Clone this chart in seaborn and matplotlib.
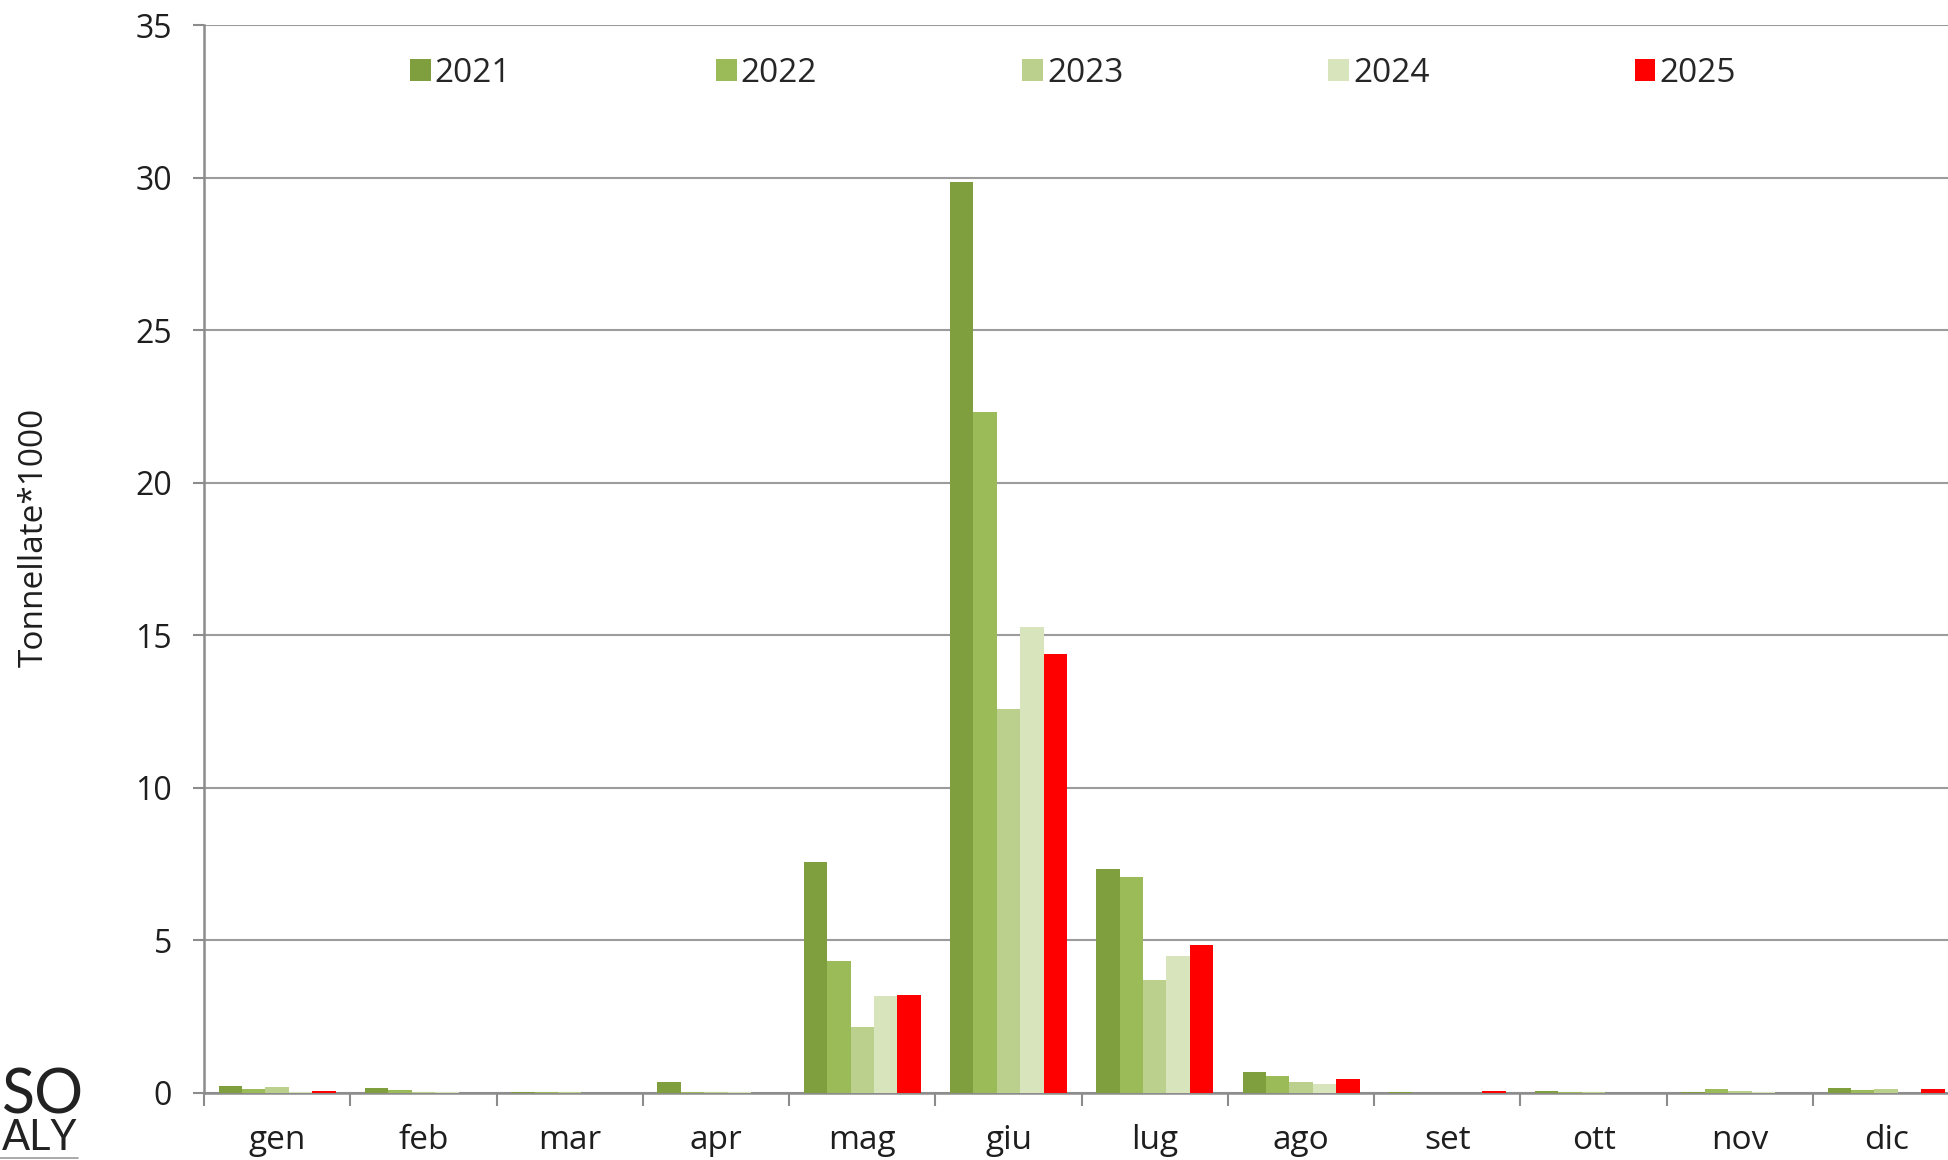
import pandas as pd
import numpy as np
import seaborn as sns
import matplotlib.pyplot as plt
from matplotlib.ticker import FixedLocator

months = ['gen', 'feb', 'mar', 'apr', 'mag', 'giu', 'lug', 'ago', 'set', 'ott', 'nov', 'dic']
years = ['2021', '2022', '2023', '2024', '2025']

# tonnellate*1000
v2021 = [0.22, 0.15, 0.04, 0.37, 7.58, 29.87, 7.33, 0.68, 0.02, 0.08, 0.04, 0.15]
v2022 = [0.14, 0.11, 0.04, 0.03, 4.32, 22.33, 7.09, 0.57, 0.00, 0.02, 0.12, 0.11]
v2023 = [0.21, 0.02, 0.04, 0.03, 2.16, 12.59, 3.71, 0.36, 0.00, 0.02, 0.06, 0.13]
v2024 = [0.02, 0.02, 0.01, 0.02, 3.18, 15.28, 4.48, 0.29, 0.00, 0.00, 0.02, 0.00]
v2025 = [0.05, 0.00, 0.00, 0.00, 3.22, 14.38, 4.85, 0.47, 0.05, 0.00, 0.00, 0.12]

colors = ['#7F9F3E', '#9BBB59', '#BBD08C', '#D8E4BC', '#FF0000']

rows = []
for year, vals in zip(years, [v2021, v2022, v2023, v2024, v2025]):
    for m, v in zip(months, vals):
        rows.append({'mese': m, 'anno': year, 'valore': v})
df = pd.DataFrame(rows)

sns.set_style('white')
plt.rcParams['font.family'] = ['Open Sans', 'DejaVu Sans']

fig = plt.figure(figsize=(19.49, 11.60), dpi=100)
ax = fig.add_axes([0.1047, 0.0578, 0.8953, 0.9206])

sns.barplot(data=df, x='mese', y='valore', hue='anno', order=months,
            hue_order=years, palette=colors, width=0.8, linewidth=0,
            saturation=1, ax=ax, zorder=3)

ax.set_ylim(0, 35)
ax.set_xlim(-0.5, 11.43)
ax.set_yticks(np.arange(0, 36, 5))
ax.yaxis.grid(True, color='#9C9C9C', linewidth=1.5, zorder=0)
ax.set_axisbelow(True)

for s in ['top', 'right']:
    ax.spines[s].set_visible(False)
for s in ['left', 'bottom']:
    ax.spines[s].set_color('#8C8C8C')
    ax.spines[s].set_linewidth(1.8)

ax.tick_params(axis='y', which='major', length=8, width=1.5, color='#8C8C8C',
               direction='out', pad=15, labelsize=23, labelcolor='#1E1E1E', left=True)
ax.tick_params(axis='x', which='major', length=0, pad=22, labelsize=24,
               labelcolor='#1E1E1E')
ax.xaxis.set_minor_locator(FixedLocator(np.arange(-0.5, 12, 1)))
ax.tick_params(axis='x', which='minor', length=9, width=1.5, color='#8C8C8C',
               direction='out', bottom=True)

ax.set_xlabel('')
ax.set_ylabel('Tonnellate*1000', fontsize=24, color='#1E1E1E')
ax.yaxis.set_label_coords(-0.088, 0.52)

ax.legend(loc='center left', bbox_to_anchor=(0.118, 0.955), ncol=5, frameon=False,
          fontsize=24, handlelength=0.62, handleheight=0.62, handletextpad=0.12,
          columnspacing=6.15, borderpad=0, borderaxespad=0)

# logo fragment in the lower left corner
fig.text(0.001, 0.040, 'SO', fontsize=44, family='Lato', ha='left', va='baseline',
         color='#222222')
fig.text(0.001, 0.009, 'ALY', fontsize=30, family='Lato', ha='left', va='baseline',
         color='#222222')
fig.add_artist(plt.Line2D([0, 0.04], [0.002, 0.002], color='#9C9C9C', linewidth=1.2))

plt.savefig('out.png', dpi=100)
